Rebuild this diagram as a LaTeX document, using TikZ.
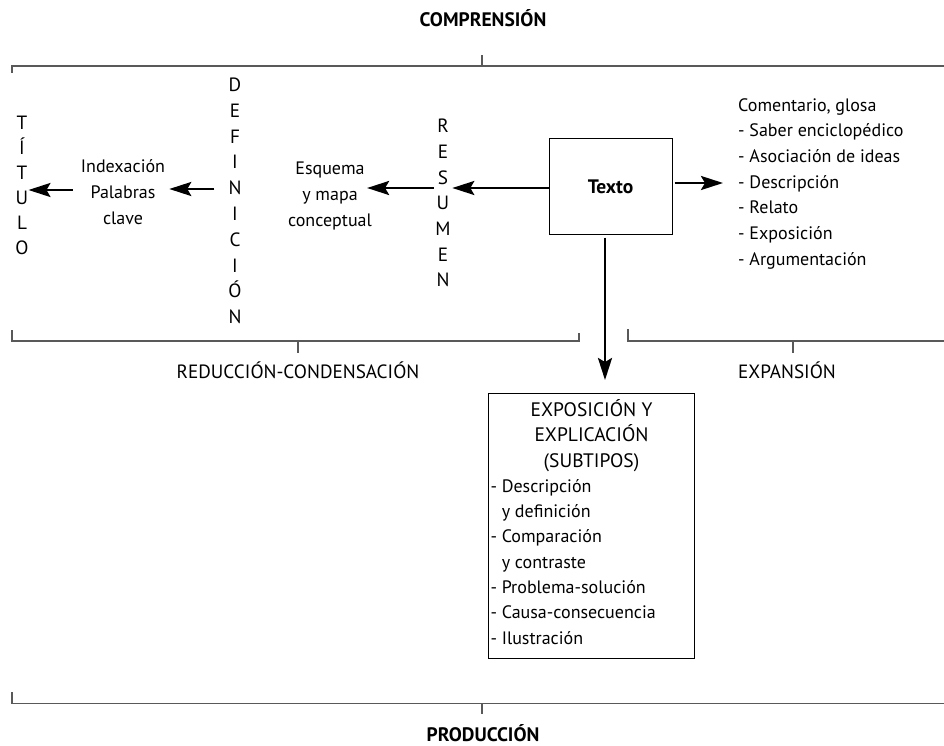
\documentclass[tikz,border=0pt]{standalone}
\usepackage{fontspec}
\setmainfont{PT Sans}
\usetikzlibrary{arrows.meta,calc}
\begin{document}
\begin{tikzpicture}[x=1pt,y=-1pt,
  every node/.style={inner sep=0pt, font=\fontsize{18}{25.7}\selectfont},
  lbl/.style={anchor=base},
  caps/.style={anchor=base, font=\fontsize{19.2}{25.7}\selectfont},
  head/.style={anchor=base, font=\fontsize{19.5}{25.7}\selectfont\bfseries},
  grp/.style={align=center, font=\fontsize{18}{26}\selectfont},
  brk/.style={line width=1.2pt, draw=black!65},
  arr/.style={line width=2.6pt, -{Stealth[length=22pt,width=14pt,inset=4pt]}},
  box/.style={draw, line width=1pt},
  ]
\useasboundingbox (0,0) rectangle (944,746);

% brackets
\draw[brk] (12,73) -- (12,66) -- (944,66);
\draw[brk] (482,66) -- (482,55);
\draw[brk] (12,330) -- (12,341) -- (579,341) -- (579,333);
\draw[brk] (298,341) -- (298,353);
\draw[brk] (628,329) -- (628,341) -- (944,341);
\draw[brk] (793,341) -- (793,353);
\draw[brk] (12,692) -- (12,703.5) -- (944,703.5);
\draw[brk] (482,703.5) -- (482,714);

% labels
\node[head] (comp) at (483,27) {COMPRENSIÓN};
\node[caps] (red) at (298,378.5) {REDUCCIÓN-CONDENSACIÓN};
\node[caps] (expa) at (787,378.5) {EXPANSIÓN};
\node[head] (prod) at (483,741.5) {PRODUCCIÓN};

% vertical words
\foreach \l [count=\i] in {T,Í,T,U,L,O}
  \node[caps] (tit\i) at (22,{129.5+25*(\i-1)}) {\l};
\foreach \l [count=\i] in {D,E,F,I,N,I,C,I,Ó,N}
  \node[caps] (def\i) at (235,{91.5+25.8*(\i-1)}) {\l};
\foreach \l [count=\i] in {R,E,S,U,M,E,N}
  \node[caps] (res\i) at (443,{132.7+25.7*(\i-1)}) {\l};

% groups
\node[grp] (idx) at (123,191.7) {Indexación\\Palabras\\clave};
\node[grp] (esq) at (330,195.9) {Esquema\\y mapa\\conceptual};

% Texto box
\node[box, minimum width=123pt, minimum height=95pt,
      font=\fontsize{19.5}{25.7}\selectfont\bfseries] (texto) at (610.5,186.5) {Texto};

% right list
\node[anchor=west, align=left] (com) at (738,183.7)
  {Comentario, glosa\\- Saber enciclopédico\\- Asociación de ideas\\- Descripción\\- Relato\\- Exposición\\- Argumentación};

% exposition box
\node[box, anchor=north west, inner xsep=2pt, inner ysep=6pt] (expo) at (488,393)
  {\parbox[c][253pt][t]{202pt}{\fontsize{18}{25.3}\selectfont\centering
   {\fontsize{19.5}{25.3}\selectfont EXPOSICIÓN Y\\EXPLICACIÓN\\(SUBTIPOS)\par}\raggedright
   - Descripción\\\phantom{- }y definición\\- Comparación\\\phantom{- }y contraste\\- Problema-solución\\- Causa-consecuencia\\- Ilustración\par}};

% arrows
\draw[arr] ($(idx.west|-0,190)+(-8,0)$) -- (tit4.east|-0,190);
\draw[arr] ($(def5.west|-0,189)+(-14,0)$) -- ($(idx.east|-0,189)+(4,0)$);
\draw[arr] ($(res3.west|-0,188)+(-4,0)$) -- ($(esq.east|-0,188)+(-5,0)$);
\draw[arr] (texto.west|-0,188) -- ($(res3.east|-0,188)+(4,0)$);
\draw[arr] ($(texto.east|-0,183)+(2,0)$) -- ($(com.west|-0,183)+(-15,0)$);
\draw[arr] ($(texto.south)+(-5.5,3)$) -- ($(texto.south|-expo.north)+(-5.5,-13)$);
\end{tikzpicture}
\end{document}
